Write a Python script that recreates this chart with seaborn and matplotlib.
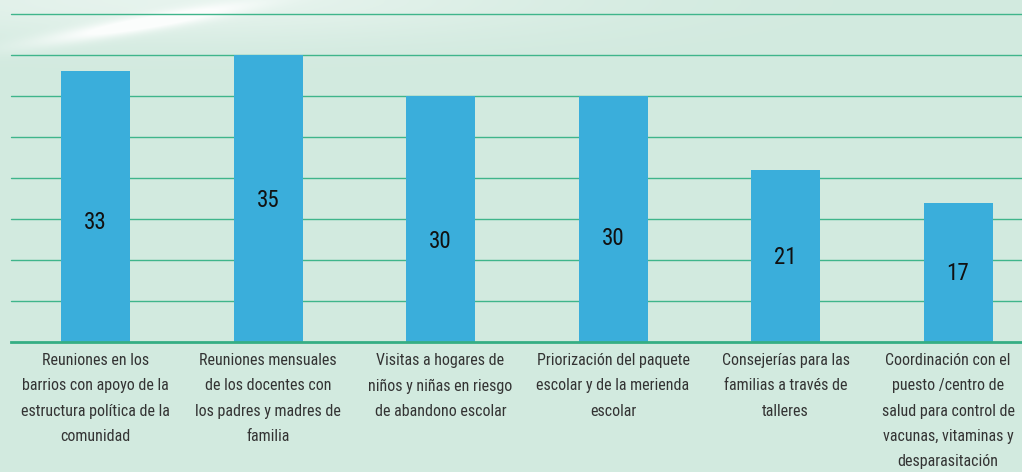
import numpy as np
import matplotlib
matplotlib.use("Agg")
import matplotlib.pyplot as plt
from matplotlib import font_manager
from matplotlib.font_manager import FontProperties
from matplotlib.transforms import ScaledTranslation
import seaborn as sns
import pandas as pd
import os

# ---- data ----
categories = [
    "Reuniones en los\nbarrios con apoyo de la\nestructura política de la\ncomunidad",
    "Reuniones mensuales\nde los docentes con\nlos padres y madres de\nfamilia",
    "Visitas a hogares de\nniños y niñas en riesgo\nde abandono escolar",
    "Priorización del paquete\nescolar y de la merienda\nescolar",
    "Consejerías para las\nfamilias a través de\ntalleres",
    "Coordinación con el\npuesto /centro de\nsalud para control de\nvacunas, vitaminas y\ndesparasitación",
]
values = [33, 35, 30, 30, 21, 17]
value_labels = ["33", "35", "30", "30", "21", "17"]

# label vertical placement inside bars (data units)
label_y = [14.6, 17.3, 12.3, 12.7, 10.3, 8.4]

# ---- style ----
BG = "#D2EADF"
GRID = "#3FB58B"
BAR = "#3AAEDB"
TXT = "#333333"

sns.set_theme(style="white")
plt.rcParams["font.family"] = ["DejaVu Sans"]


def pick_condensed():
    files = [f.fname for f in font_manager.fontManager.ttflist]
    extra = []
    for root in ["/usr/share/fonts", "/usr/local/share/fonts",
                 os.path.expanduser("~/.fonts")]:
        if os.path.isdir(root):
            for dp, _, fns in os.walk(root):
                for fn in fns:
                    if fn.lower().endswith((".ttf", ".otf")):
                        extra.append(os.path.join(dp, fn))
    allf = list(dict.fromkeys(files + extra))
    prefs = [
        "liberationsansnarrow-regular",
        "notosans-condensed.", "notosans-condensed-regular", "notosans_condensed-regular",
        "opensans-condensed-regular", "opensans_condensed-regular",
        "roboto-condensed-regular", "robotocondensed-regular", "roboto_condensed-regular",
        "dejavusanscondensed.",
    ]
    low = {os.path.basename(f).lower(): f for f in allf}
    for p in prefs:
        for k, v in low.items():
            if k.startswith(p):
                return v
    for k, v in low.items():
        if "condensed" in k and "bold" not in k and "italic" not in k \
                and "semi" not in k and "extra" not in k and "light" not in k \
                and "mono" not in k and "serif" not in k:
            return v
    for k, v in low.items():
        if "narrow" in k and "bold" not in k and "italic" not in k:
            return v
    return None


cf = pick_condensed()


def fp(size):
    if cf:
        return FontProperties(fname=cf, size=size)
    return FontProperties(family="DejaVu Sans", stretch="condensed", size=size)


W, H = 1022, 472
fig = plt.figure(figsize=(W / 100, H / 100), dpi=100, facecolor=BG)

# subtle whitish texture streak at top-left
yy, xx = np.mgrid[0:H, 0:W].astype(float)
x0, y0, x1, y1 = 70.0, 36.0, 300.0, -4.0
dx, dy = x1 - x0, y1 - y0
L = np.hypot(dx, dy)
t = ((xx - x0) * dx + (yy - y0) * dy) / L**2
d = np.abs((xx - x0) * dy - (yy - y0) * dx) / L
along = np.exp(-((t - 0.3) / 0.45) ** 2)
streak = np.exp(-(d / 8.0) ** 2) * along * 0.9
haze = np.exp(-(yy / 40.0) ** 2) * np.exp(-((xx - 180) / 380.0) ** 2) * 0.45
alpha = np.clip(streak + haze, 0, 0.92)
img = np.zeros((H, W, 4))
img[..., :3] = 1.0
img[..., 3] = alpha
fig.figimage(img, xo=0, yo=0, origin="upper", zorder=-1)

# axes geometry (pixels)
left_px, base_px, top_px = 11, 342.3, 14.0
slot = 172.5
xmin = -0.49
xmax = 5.5
ax = fig.add_axes([left_px / W, (H - base_px) / H,
                   (xmax - xmin) * slot / W, (base_px - top_px) / H])
ax.set_facecolor("none")

df = pd.DataFrame({"cat": categories, "val": values})
sns.barplot(data=df, x="cat", y="val", color=BAR, saturation=1, width=0.4,
            ax=ax, zorder=3, linewidth=0, edgecolor="none")

ax.set_xlim(xmin, xmax)
ax.set_ylim(0, 40)
ax.set_yticks(np.arange(5, 41, 5))
ax.yaxis.grid(True, color=GRID, linewidth=1.0, zorder=0)
ax.set_axisbelow(True)
for gl in ax.get_ygridlines():
    gl.set_clip_on(False)
ax.tick_params(axis="y", left=False, labelleft=False)
ax.tick_params(axis="x", bottom=False, pad=2)
for s in ["top", "right", "left"]:
    ax.spines[s].set_visible(False)
ax.spines["bottom"].set_color("#35AE84")
ax.spines["bottom"].set_linewidth(2.0)
ax.spines["bottom"].set_zorder(4)
ax.set_xlabel("")
ax.set_ylabel("")

ax.set_xticks(range(len(categories)))
ax.set_xticklabels(categories, fontproperties=fp(11.5), color=TXT,
                   linespacing=1.84, va="top")
# the last label sits slightly left of its bar, as in the original
last = ax.get_xticklabels()[-1]
last.set_transform(last.get_transform() +
                   ScaledTranslation(-0.10, 0, fig.dpi_scale_trans))

for i, (lab, ly) in enumerate(zip(value_labels, label_y)):
    ax.text(i, ly, lab, ha="center", va="center", fontproperties=fp(16.5),
            color="#111111", zorder=5)

fig.savefig("out.png", dpi=100, facecolor=BG)
